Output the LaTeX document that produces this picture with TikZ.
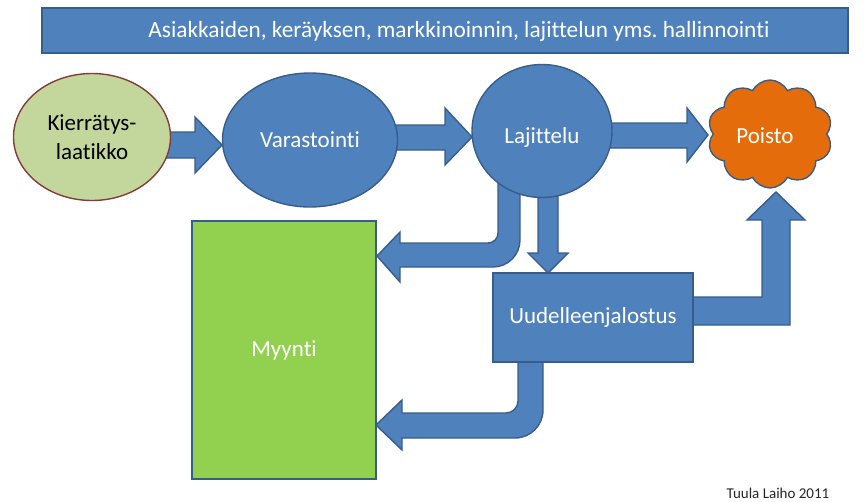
\documentclass[tikz,border=0pt]{standalone}
\usepackage{fontspec}
\setmainfont{Carlito}[Ligatures=NoCommon]
\usetikzlibrary{shapes.geometric,shapes.symbols,backgrounds}
\definecolor{blueF}{HTML}{4F81BD}
\definecolor{blueD}{HTML}{385D8A}
\definecolor{greenF}{HTML}{92D050}
\definecolor{oliveF}{HTML}{C3D69B}
\definecolor{brownD}{HTML}{843C3C}
\definecolor{orangeF}{HTML}{E46C0A}
\frenchspacing
\tikzset{
  base/.style={line width=1.4pt, inner sep=0pt, outer sep=0pt, font=\fontsize{23}{29}\selectfont, text=white, align=center},
  ellnode/.style={base, ellipse, draw=blueD, fill=blueF},
  boxnode/.style={base, rectangle, draw=blueD, fill=blueF},
  cloudnode/.style={base, cloud, cloud puffs=10, cloud puff arc=125, cloud ignores aspect, draw=blueD, fill=orangeF},
  barrow/.style={fill=blueF, draw=blueD, line width=1.4pt, line join=miter},
}
\begin{document}
\begin{tikzpicture}[x=1pt,y=-1pt]
\useasboundingbox (0,0) rectangle (865,501);
% top bar
\node[boxnode, minimum width=806, minimum height=45] (bar) at (445,30.5) {};
\node[base, font=\fontsize{23.3}{26}\selectfont] (bartext) at (459,31) {Asiakkaiden, keräyksen, markkinoinnin, lajittelun yms. hallinnointi};
% nodes
\node[ellnode, fill=oliveF, draw=brownD, text=black, minimum width=157, minimum height=127] (kier) at (92,137) {Kierrätys-\\laatikko};
\node[ellnode, minimum width=175, minimum height=134] (var) at (310,140) {Varastointi};
\node[ellnode, minimum width=140, minimum height=133] (laj) at (542,131) {};
\node[base] (lajtext) at (542,137) {Lajittelu};
\node[cloudnode, minimum width=125, minimum height=108] (poisto) at (770,134) {};
\node[base] (poistotext) at (765,136) {Poisto};
\node[boxnode, minimum width=200, minimum height=89] (uud) at (593,317.5) {Uudelleenjalostus};
\node[boxnode, fill=greenF, minimum width=184, minimum height=258] (myy) at (284,350) {Myynti};
\node[font=\fontsize{15}{17}\selectfont, text=black!85, inner sep=0pt] (credit) at (778,493) {Tuula Laiho 2011};
% block arrows
\begin{scope}[on background layer]
% Kierratys -> Varastointi
\draw[barrow] (165,132) -- (195,132) -- (195,117) -- (222,145) -- (195,173) -- (195,158) -- (165,158) -- cycle;
% Varastointi -> Lajittelu
\draw[barrow] (392,125) -- (445,125) -- (445,108) -- (472,137) -- (445,165) -- (445,150) -- (392,150) -- cycle;
% Lajittelu -> Poisto
\draw[barrow] (607,123) -- (687,123) -- (687,108) -- (708,135) -- (687,162) -- (687,148) -- (607,148) -- cycle;
% Lajittelu -> Uudelleenjalostus
\draw[barrow] (538,190) -- (538,253) -- (528,253) -- (548,273) -- (568,253) -- (558,253) -- (558,190) -- cycle;
% Uudelleenjalostus -> Poisto
\draw[barrow] (688,297) -- (762,297) -- (762,220) -- (747,220) -- (776,192) -- (805,220) -- (790,220) -- (790,325) -- (688,325) -- cycle;
% Lajittelu -> Myynti
\draw[barrow] (498,180) -- (498,233) .. controls (498,238.5) and (493.5,243) .. (488,243) -- (400,243) -- (400,232) -- (377,256) -- (400,282) -- (400,267) -- (493,267) .. controls (507.9,267) and (520,254.9) .. (520,240) -- (520,180) -- cycle;
% Uudelleenjalostus -> Myynti
\draw[barrow] (518,355) -- (518,401) .. controls (518,407.6) and (512.6,413) .. (506,413) -- (402,413) -- (402,400) -- (376,425) -- (402,450) -- (402,438) -- (515,438) .. controls (530.5,438) and (543,425.5) .. (543,410) -- (543,355) -- cycle;
\end{scope}
\end{tikzpicture}
\end{document}
